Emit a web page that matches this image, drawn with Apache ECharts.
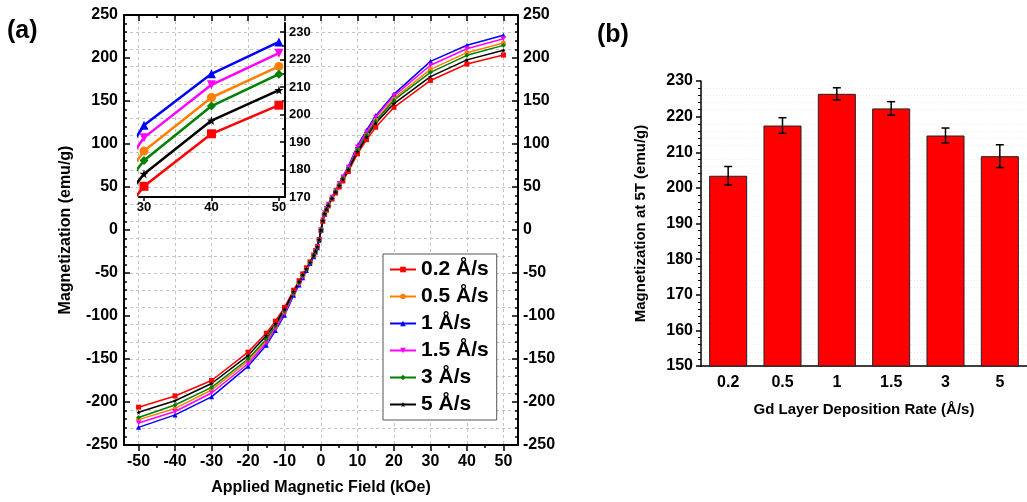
<!DOCTYPE html>
<html><head><meta charset="utf-8">
<script src="https://cdn.jsdelivr.net/npm/echarts@6/dist/echarts.min.js"></script>
<style>html,body{margin:0;padding:0;background:#fff}#c{width:1027px;height:502px}</style>
</head><body><div id="c"></div>
<script>
// ---- Panel (a) data: applied field (kOe) and magnetization (emu/g) ----
const fieldX = [-50,-40,-30,-20,-15,-12.5,-10,-7.5,-6,-5,-4,-3,-2,-1.5,-1,-0.5,0,0.5,1,1.5,2,3,4,5,6,7.5,10,12.5,15,20,30,40,50];
const seriesNames = ['0.2 Å/s','0.5 Å/s','1 Å/s','1.5 Å/s','3 Å/s','5 Å/s'];
const m02 = [-206,-193,-175,-142,-120,-106,-90,-70,-59,-51,-44,-37,-29,-24,-19,-11,0,10,18,23,28,36,43,50,57,68,88.5,105,119.5,142.6,173.9,193.0,203.4];
const m05 = [-220.5,-207.5,-186,-152.5,-129,-113,-95.5,-74,-62,-54,-46,-38.5,-30,-25,-20,-12,0,11,19,24,29,37,45,53,60.5,72,94.5,112,128,153,186.7,206.2,217.5];
const m1  = [-229.5,-215,-194,-158.5,-134,-117,-99,-76,-64,-55.5,-47,-39,-31,-25.5,-20.5,-12,0,12,20,25,30,38,46,54,62,74,98,116,133,158,196.1,214.8,226.4];
const m15 = [-224.5,-211,-189.5,-155.5,-131.5,-115,-97,-75,-63,-55,-46.5,-39,-30.5,-25.5,-20,-12,0,12,20,25,30,38,46,54,61.5,73,96.5,114,131,156,191.6,210.8,222.3];
const m3  = [-218,-203.5,-183,-150,-127,-111.5,-94,-73,-61,-53,-45.5,-38,-30,-25,-20,-11.5,0,11,19,24,29,37,45,52.5,60,71,93,110.5,126.5,151,183.3,203.1,214.7];
const m5  = [-212,-198.5,-178.5,-146,-123,-109,-92,-71.5,-60,-52,-45,-37.5,-29.5,-24.5,-19.5,-11,0,11,19,24,28.5,36.5,44,51.5,59,70,91,108,124,147,178.4,197.8,208.9];
const xMajorTicks = [-50,-40,-30,-20,-10,0,10,20,30,40,50];
const xMinorTicks = [-45,-35,-25,-15,-5,5,15,25,35,45];
const insetXTicks = [30,40,50];
const insetYTicks = [170,180,190,200,210,220,230];
const insetYMinor = [175,185,195,205,215,225];

// ---- Panel (b) data ----
const rateCats = ['0.2','0.5','1','1.5','3','5'];
const msValues = [203.4,217.5,226.4,222.3,214.7,208.9];
const msErrors = [2.6,2.2,1.7,1.9,2.1,3.2];

const font = "'Liberation Sans', Arial, sans-serif";
const colors = ['#ff0000','#ff8000','#0000ff','#ff00ff','#008000','#000000'];
const star = 'path://M50,0 L61,35 L98,35 L68,57 L79,91 L50,70 L21,91 L32,57 L2,35 L39,35 Z';
const symbols = ['rect','circle','triangle','path://M0,0 L100,0 L50,87 Z','diamond',star];
const allSeries = [m02,m05,m1,m15,m3,m5];
const lbl = (size) => ({fontSize:size, fontWeight:'bold', color:'#000', fontFamily:font});
const blackLine = (w) => ({show:true, onZero:false, lineStyle:{color:'#000', width:w}});
const noLine = {show:false, onZero:false};

const series = [];
allSeries.forEach((vals, k) => {
  const data = fieldX.map((x, i) => [x, vals[i]]);
  series.push({type:'line', name:seriesNames[k], xAxisIndex:0, yAxisIndex:0, data,
    symbol:symbols[k], symbolSize:5, showAllSymbol:true,
    lineStyle:{color:colors[k], width:1.5}, itemStyle:{color:colors[k]}, z:3});
});
allSeries.forEach((vals, k) => {
  const data = fieldX.map((x, i) => [x, vals[i]]);
  series.push({type:'line', name:seriesNames[k], xAxisIndex:4, yAxisIndex:3, data,
    symbol:symbols[k], symbolSize:9, clip:true, showAllSymbol:true,
    lineStyle:{color:colors[k], width:2.5}, itemStyle:{color:colors[k]}, z:4});
});
series.push({type:'bar', xAxisIndex:5, yAxisIndex:5, data:msValues, barWidth:'70%',
  itemStyle:{color:'#ff0000', borderColor:'#222', borderWidth:1}});
series.push({type:'custom', xAxisIndex:5, yAxisIndex:5, z:10,
  data: rateCats.map((c, i) => [i, msValues[i]-msErrors[i], msValues[i]+msErrors[i]]),
  encode:{x:0, y:[1,2]},
  renderItem: function(params, api){
    const x = api.value(0);
    const lo = api.coord([x, api.value(1)]);
    const hi = api.coord([x, api.value(2)]);
    const w = 4, style = {stroke:'#000', lineWidth:1.5};
    return {type:'group', children:[
      {type:'line', shape:{x1:hi[0], y1:hi[1], x2:lo[0], y2:lo[1]}, style},
      {type:'line', shape:{x1:hi[0]-w, y1:hi[1], x2:hi[0]+w, y2:hi[1]}, style},
      {type:'line', shape:{x1:lo[0]-w, y1:lo[1], x2:lo[0]+w, y2:lo[1]}, style}
    ]};
  }});

const gridLine = {show:true, lineStyle:{color:'#c4c4c4', width:1, type:[3,3]}};

const option = {
  animation:false,
  backgroundColor:'#fff',
  title:[
    {text:'(a)', left:2, top:14, textStyle:{fontSize:25, fontWeight:'bold', fontFamily:font, color:'#000'}},
    {text:'(b)', left:592, top:18, textStyle:{fontSize:25, fontWeight:'bold', fontFamily:font, color:'#000'}}
  ],
  legend:{data:seriesNames, orient:'vertical', left:383, top:254, padding:[5,8,5,6], itemGap:6,
    itemWidth:26, itemHeight:7, selectedMode:false, textStyle:{...lbl(21), lineHeight:21},
    borderColor:'#555', borderWidth:1, backgroundColor:'#fff', borderRadius:0},
  grid:[
    {left:124, top:15, width:394, height:430},
    {left:139, top:23, width:146, height:174},
    {left:701, top:81, width:336, height:285}
  ],
  xAxis:[
    {type:'value', gridIndex:0, min:-54, max:54, position:'bottom',
      axisLine:blackLine(2),
      axisTick:{show:true, inside:false, length:6, customValues:xMajorTicks, lineStyle:{color:'#000', width:1.5}},
      axisLabel:{customValues:xMajorTicks, margin:9, ...lbl(16)},
      splitLine:gridLine,
      name:'Applied Magnetic Field (kOe)', nameLocation:'middle', nameGap:35, nameTextStyle:lbl(16)},
    {type:'value', gridIndex:0, min:-54, max:54, position:'bottom',
      axisLine:noLine,
      axisTick:{show:true, inside:false, length:3, customValues:xMinorTicks, lineStyle:{color:'#000', width:1.5}},
      axisLabel:{show:false}, splitLine:{show:false}},
    {type:'value', gridIndex:0, min:-54, max:54, position:'top',
      axisLine:blackLine(2),
      axisTick:{show:true, inside:true, length:6, customValues:xMajorTicks, lineStyle:{color:'#000', width:1.5}},
      axisLabel:{show:false}, splitLine:{show:false}},
    {type:'value', gridIndex:0, min:-54, max:54, position:'top',
      axisLine:noLine,
      axisTick:{show:true, inside:true, length:3, customValues:xMinorTicks, lineStyle:{color:'#000', width:1.5}},
      axisLabel:{show:false}, splitLine:{show:false}},
    {type:'value', gridIndex:1, min:29.26, max:50.9, position:'bottom',
      axisLine:blackLine(2),
      axisTick:{show:true, inside:false, length:4, customValues:insetXTicks, lineStyle:{color:'#000', width:1.5}},
      axisLabel:{customValues:insetXTicks, margin:4, ...lbl(13)},
      splitLine:{show:false}},
    {type:'category', gridIndex:2, data:rateCats,
      axisLine:blackLine(1.5), axisTick:{show:false},
      axisLabel:{margin:9, ...lbl(16)},
      name:'Gd Layer Deposition Rate (Å/s)', nameLocation:'middle', nameGap:36, nameTextStyle:lbl(15)}
  ],
  yAxis:[
    {type:'value', gridIndex:0, min:-250, max:250, interval:50, position:'left',
      axisLine:blackLine(2),
      axisTick:{show:true, inside:true, length:6, lineStyle:{color:'#000', width:1.5}},
      minorTick:{show:true, splitNumber:5, length:3, lineStyle:{color:'#000', width:1.5}},
      axisLabel:{margin:6, ...lbl(16)}, splitLine:{show:false},
      name:'Magnetization (emu/g)', nameLocation:'middle', nameGap:50, nameTextStyle:lbl(16)},
    {type:'value', gridIndex:0, min:-250, max:250, interval:50, position:'right',
      axisLine:blackLine(2),
      axisTick:{show:true, inside:true, length:6, lineStyle:{color:'#000', width:1.5}},
      minorTick:{show:true, splitNumber:5, length:3, lineStyle:{color:'#000', width:1.5}},
      axisLabel:{margin:5, ...lbl(16)}, splitLine:{show:false}},
    {type:'value', gridIndex:0, min:-240, max:260, interval:20, position:'left',
      axisLine:noLine, axisTick:{show:false}, axisLabel:{show:false},
      splitLine:gridLine},
    {type:'value', gridIndex:1, min:170, max:233.3, position:'right',
      axisLine:blackLine(2),
      axisTick:{show:true, inside:true, length:5, customValues:insetYTicks, lineStyle:{color:'#000', width:1.5}},
      axisLabel:{customValues:insetYTicks, margin:4, ...lbl(13)},
      splitLine:{show:false}},
    {type:'value', gridIndex:1, min:170, max:233.3, position:'right',
      axisLine:noLine,
      axisTick:{show:true, inside:true, length:3, customValues:insetYMinor, lineStyle:{color:'#000', width:1.5}},
      axisLabel:{show:false}, splitLine:{show:false}},
    {type:'value', gridIndex:2, min:150, max:230, interval:10, position:'left',
      axisLine:blackLine(1.5),
      axisTick:{show:true, inside:false, length:5, lineStyle:{color:'#000', width:1.5}},
      minorTick:{show:true, splitNumber:5, length:3, lineStyle:{color:'#000', width:1}},
      axisLabel:{margin:8, ...lbl(16)},
      splitLine:{show:false},
      minorSplitLine:{show:true, lineStyle:{color:'#eeeeee', width:1, type:[1,2]}},
      name:'Magnetization at 5T (emu/g)', nameLocation:'middle', nameGap:53, nameTextStyle:lbl(15)}
  ],
  series
};
const chart = echarts.init(document.getElementById('c'), null, {renderer:'canvas'});
chart.setOption(option);
</script></body></html>
